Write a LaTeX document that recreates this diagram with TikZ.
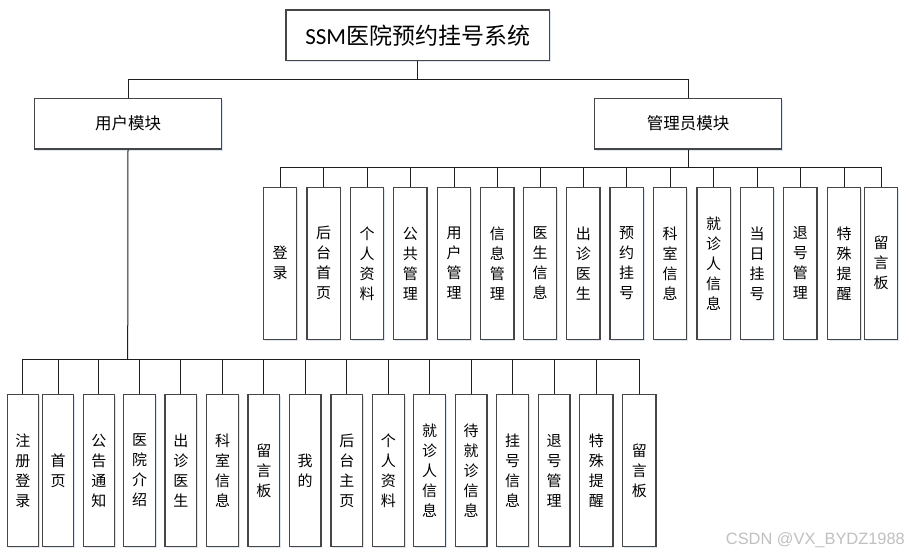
\documentclass[tikz,border=0pt]{standalone}
\usepackage{fontspec}
\setmainfont{Noto Sans CJK SC}
\newfontfamily\cjk{Noto Sans CJK SC}
\newfontfamily\calib{Carlito}
\newfontfamily\wmfont{Liberation Sans}
\usetikzlibrary{shadows}
\definecolor{boxgray}{RGB}{70,70,70}
\definecolor{linegray}{RGB}{30,30,30}
\definecolor{shadowblue}{RGB}{200,214,236}
\definecolor{wmgray}{RGB}{192,192,192}
\tikzset{
  box/.style={draw=boxgray, line width=1.3pt, fill=white, inner sep=0pt,
    drop shadow={shadow xshift=1.2pt, shadow yshift=-1.5pt, fill=shadowblue, opacity=0.6}},
  vbox/.style={box, minimum height=152, align=center,
    font=\cjk\fontsize{15}{20}\selectfont},
  modbox/.style={box, minimum width=187.4, minimum height=50.7,
    font=\cjk\fontsize{16.5}{20}\selectfont},
  conn/.style={draw=linegray, line width=1pt}
}
\begin{document}
\begin{tikzpicture}[x=1pt,y=-1pt]
\path[use as bounding box, fill=white] (0,0) rectangle (909,555);

% top
\node[box, minimum width=263.3, minimum height=50.7] (top) at (417.7,35.3)
  {\fontsize{23}{23}\selectfont{\calib SSM}\cjk 医院预约挂号系统};
\node[modbox] (umod) at (128,123.7) {用户模块};
\node[modbox] (amod) at (688,123.7) {管理员模块};

\coordinate (j0) at (417.7,79.3);
\draw[conn] (top.south) -- (j0);
\draw[conn] (umod.north) |- (j0) -| (amod.north);

% admin children
\coordinate (ja) at (688,167.3);
\draw[conn] (amod.south) -- (ja);
\foreach \x/\t [count=\i] in {
  280/{登\\录}, 323.6/{后\\台\\首\\页}, 367/{个\\人\\资\\料}, 410.4/{公\\共\\管\\理},
  454/{用\\户\\管\\理}, 497.4/{信\\息\\管\\理}, 540/{医\\生\\信\\息},
  583.4/{出\\诊\\医\\生}, 626.7/{预\\约\\挂\\号}, 670/{科\\室\\信\\息},
  713.7/{就\\诊\\人\\信\\息}, 757/{当\\日\\挂\\号}, 800.4/{退\\号\\管\\理},
  844/{特\\殊\\提\\醒}, 881/{留\\言\\板}}{
  \node[vbox, minimum width=33.3] (a\i) at (\x,263.3) {\t};
  \draw[conn] (ja) -| (a\i.north);
}

% user children
\coordinate (ju) at (127.7,359);
\draw[conn] (umod.south) -- (ju);
\foreach \x/\w/\t [count=\i] in {
  22.8/31/{注\\册\\登\\录}, 58/31/{首\\页}, 98.8/31/{公\\告\\通\\知},
  139.5/31.6/{医\\院\\介\\绍}, 180.8/31.7/{出\\诊\\医\\生}, 222.5/31.6/{科\\室\\信\\息},
  263.8/31.7/{留\\言\\板}, 305.2/31.7/{我\\的}, 346.8/31.7/{后\\台\\主\\页},
  388.3/32/{个\\人\\资\\料}, 429.7/32/{就\\诊\\人\\信\\息}, 471.2/31.7/{待\\就\\诊\\信\\息},
  512.7/32/{挂\\号\\信\\息}, 554.2/31.7/{退\\号\\管\\理}, 596.3/33.3/{特\\殊\\提\\醒},
  639.3/33.3/{留\\言\\板}}{
  \node[vbox, minimum width=\w] (u\i) at (\x,470.5) {\t};
  \draw[conn] (ju) -| (u\i.north);
}

% watermark
\node[anchor=east, inner sep=0pt, text=wmgray, font=\wmfont\fontsize{16.4}{18}\selectfont]
  (wm) at (905,540) {CSDN @VX\_BYDZ1988};
\end{tikzpicture}
\end{document}
